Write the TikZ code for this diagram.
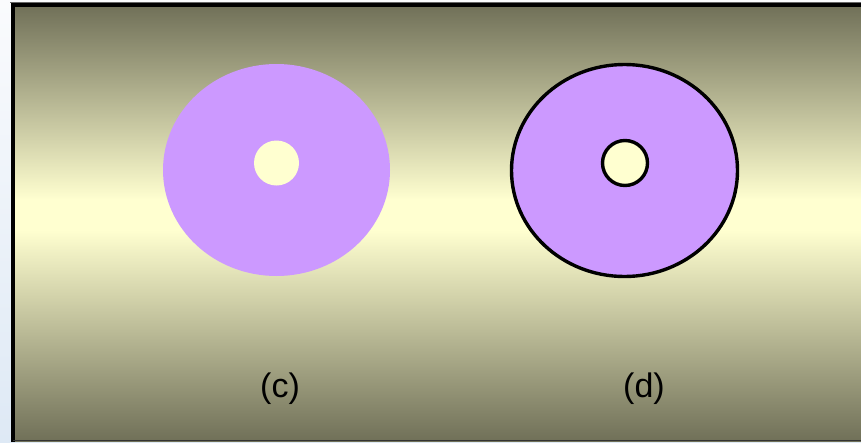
\documentclass[tikz,border=0pt]{standalone}
\usepackage{fontspec}
\setmainfont{Liberation Sans}
\definecolor{olivedark}{RGB}{112,112,88}
\definecolor{paleyellow}{RGB}{255,255,208}
\definecolor{lilac}{RGB}{204,153,255}
\definecolor{pagetop}{RGB}{250,251,253}
\definecolor{pagebot}{RGB}{222,233,245}
\begin{document}
\begin{tikzpicture}[x=1pt,y=-1pt,
  disc/.style={fill=lilac},
  hole/.style={fill=paleyellow},
  outlined/.style={draw=black,line width=3.4pt},
  lbl/.style={font=\fontsize{34}{40}\selectfont,anchor=base,text=black,inner sep=0pt}]
\useasboundingbox (0,0) rectangle (861,442);
% page background strip
\shade[top color=pagetop,bottom color=pagebot] (0,0) rectangle (861,442);
% slide background gradient
\shade[top color=olivedark,bottom color=paleyellow] (13,5) rectangle (861,200);
\fill[paleyellow] (13,199) rectangle (861,231);
\shade[top color=paleyellow,bottom color=olivedark] (13,230) rectangle (861,441);
% frame
\draw[black!60,line width=1pt] (10,2.5) -- (861,2.5);
\draw[black,line width=4pt] (13,442) -- (13,5) -- (861,5);
\draw[black!80,line width=1.5pt] (13,440.5) -- (861,440.5);
% (c)
\fill[disc] (276.5,170) ellipse [x radius=113.5,y radius=106];
\fill[hole] (276.5,163) circle [radius=22.5];
% (d)
\filldraw[disc,outlined] (624.5,170.5) ellipse [x radius=113,y radius=106];
\filldraw[hole,outlined] (625,163) circle [radius=22.5];
% labels
\node[lbl] (lc) at (280,397) {(c)};
\node[lbl] (ld) at (644,397) {(d)};
\end{tikzpicture}
\end{document}
